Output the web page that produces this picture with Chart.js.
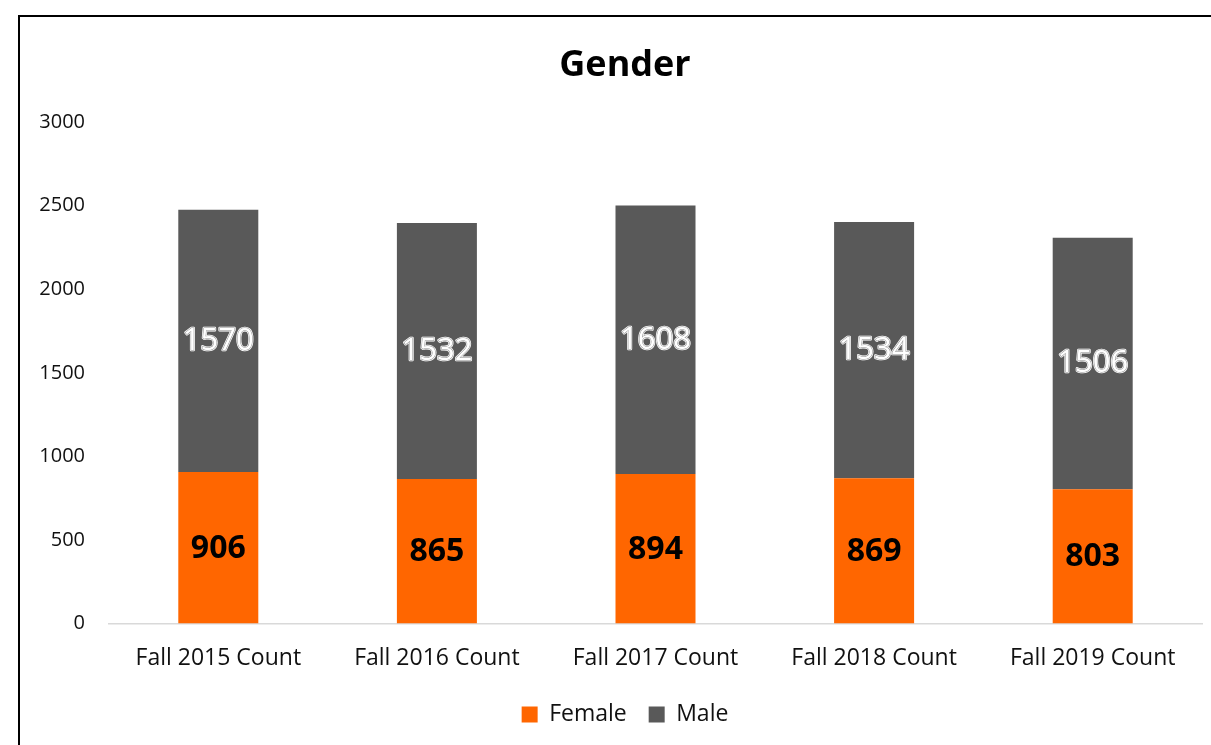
<!DOCTYPE html>
<html>
<head>
<meta charset="utf-8">
<script src="https://cdn.jsdelivr.net/npm/chart.js@4.4.1/dist/chart.umd.min.js"></script>
<style>
  html, body { margin: 0; padding: 0; background: #fff; overflow: hidden; }
  #wrap { position: absolute; left: 0; top: 0; width: 1250px; height: 745px; }
</style>
</head>
<body>
<div id="wrap"><canvas id="genderChart" width="1250" height="745"></canvas></div>
<script>
var categories = ['Fall 2015 Count', 'Fall 2016 Count', 'Fall 2017 Count', 'Fall 2018 Count', 'Fall 2019 Count'];
var femaleCounts = [906, 865, 894, 869, 803];
var maleCounts = [1570, 1532, 1608, 1534, 1506];
var yTicks = [0, 500, 1000, 1500, 2000, 2500, 3000];

var fontName = "'Open Sans', 'Liberation Sans', sans-serif";

// frame line (top + left, the rest is cropped off)
var framePlugin = {
    id: 'frame',
    beforeDraw: function (chart) {
        var c = chart.ctx;
        c.save();
        c.strokeStyle = '#000';
        c.lineWidth = 2;
        c.beginPath();
        c.moveTo(19, 745);
        c.lineTo(19, 16);
        c.lineTo(1250, 16);
        c.stroke();
        c.restore();
    }
};

// value labels in the middle of each segment
var valueLabels = {
    id: 'valueLabels',
    afterDatasetsDraw: function (chart) {
        var c = chart.ctx;
        c.save();
        c.textAlign = 'center';
        c.textBaseline = 'middle';
        chart.data.datasets.forEach(function (ds, i) {
            var meta = chart.getDatasetMeta(i);
            meta.data.forEach(function (bar, j) {
                var y = (bar.y + bar.base) / 2;
                var txt = String(ds.data[j]);
                if (i === 0) {
                    c.font = 'bold 32px ' + fontName;
                    c.fillStyle = '#000';
                    c.fillText(txt, bar.x, y + 1);
                } else {
                    c.font = '31px ' + fontName;
                    c.lineJoin = 'round';
                    c.strokeStyle = '#fff';
                    c.lineWidth = 2.5;
                    c.strokeText(txt, bar.x, y);
                    c.strokeStyle = '#8a8a8a';
                    c.lineWidth = 1;
                    c.strokeText(txt, bar.x, y);
                    c.fillStyle = '#fff';
                    c.fillText(txt, bar.x, y);
                }
            });
        });
        c.restore();
    }
};

var ctx = document.getElementById('genderChart').getContext('2d');
var genderChart = new Chart(ctx, {
    type: 'bar',
    data: {
        labels: categories,
        datasets: [{
            label: 'Female',
            data: femaleCounts,
            backgroundColor: '#FF6600',
            borderWidth: 0
        }, {
            label: 'Male',
            data: maleCounts,
            backgroundColor: '#595959',
            borderWidth: 0
        }]
    },
    options: {
        responsive: false,
        animation: false,
        layout: {
            padding: { left: 20, right: 20, top: 0, bottom: 9 }
        },
        datasets: {
            bar: { barPercentage: 0.366, categoryPercentage: 1 }
        },
        scales: {
            x: {
                stacked: true,
                grid: { display: false, drawTicks: false },
                border: { display: true, color: '#d9d9d9', width: 1.5 },
                ticks: {
                    color: '#111',
                    padding: 21,
                    maxRotation: 0,
                    font: { family: fontName, size: 23 }
                }
            },
            y: {
                stacked: true,
                min: 0,
                max: 3000,
                afterBuildTicks: function (scale) {
                    scale.ticks = yTicks.map(function (v) { return { value: v }; });
                },
                afterFit: function (scale) { scale.width = 89; },
                grid: { display: false, drawTicks: false },
                border: { display: false },
                ticks: {
                    color: '#111',
                    padding: 24,
                    callback: function (v) { return String(v); },
                    font: { family: fontName, size: 20 }
                }
            },
            // empty right-hand margin so the title sits where the original chart centre is
            yRight: {
                position: 'right',
                display: true,
                afterFit: function (scale) { scale.width = 28; },
                grid: { display: false, drawTicks: false },
                border: { display: false },
                ticks: { display: false }
            }
        },
        plugins: {
            title: {
                display: true,
                text: 'Gender',
                color: '#000',
                padding: { top: 44, bottom: 35 },
                font: { family: fontName, size: 36, weight: 'bold' }
            },
            legend: {
                position: 'bottom',
                labels: {
                    color: '#111',
                    boxWidth: 16,
                    boxHeight: 16,
                    padding: 10,
                    font: { family: fontName, size: 23 },
                    generateLabels: function (chart) {
                        var items = Chart.defaults.plugins.legend.labels.generateLabels(chart);
                        items[0].text = items[0].text + '  ';
                        return items;
                    }
                }
            },
            tooltip: { enabled: false }
        }
    },
    plugins: [framePlugin, valueLabels]
});
</script>
</body>
</html>
